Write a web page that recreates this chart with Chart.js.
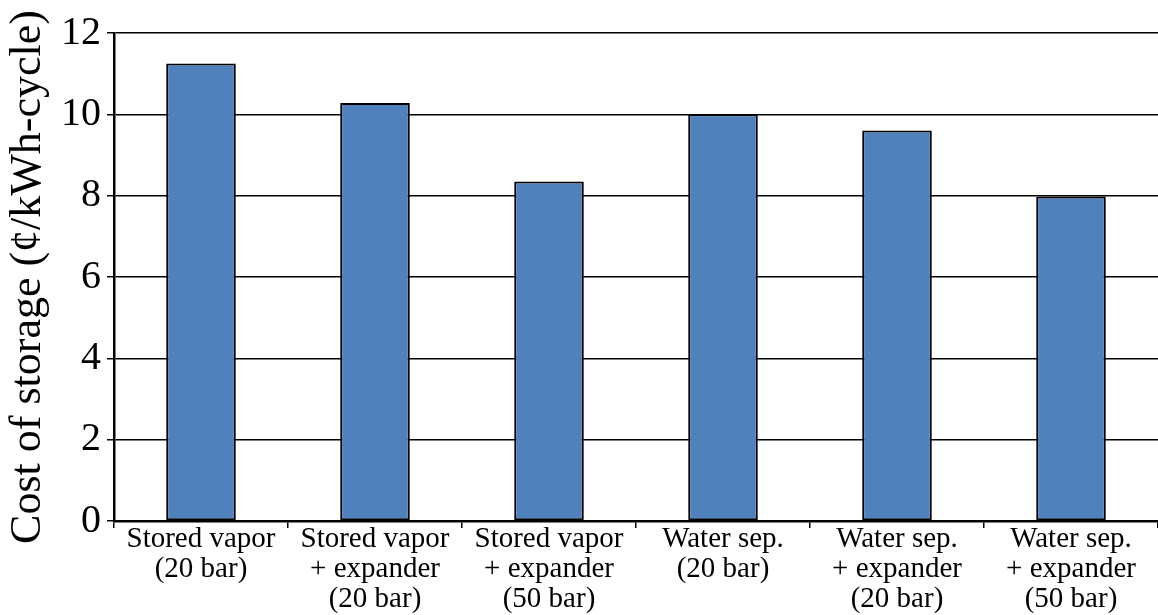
<!DOCTYPE html>
<html>
<head>
<meta charset="utf-8">
<script src="https://cdn.jsdelivr.net/npm/chart.js@4.4.0/dist/chart.umd.min.js"></script>
<style>
  html, body { margin: 0; padding: 0; background: #fff; }
  #wrap { width: 1158px; height: 615px; }
</style>
</head>
<body>
<div id="wrap"><canvas id="chart" width="1158" height="615"></canvas></div>
<script>
// ---------- DATOS ----------
const categorias = [
    ['Stored vapor', '(20 bar)'],
    ['Stored vapor', '+ expander', '(20 bar)'],
    ['Stored vapor', '+ expander', '(50 bar)'],
    ['Water sep.', '(20 bar)'],
    ['Water sep.', '+ expander', '(20 bar)'],
    ['Water sep.', '+ expander', '(50 bar)']
];
const costos = [11.25, 10.28, 8.35, 10.0, 9.6, 7.98];
const yMin = 0;
const yMax = 12;
const yPaso = 2;

// ---------- GRÁFICA ----------
const ctx = document.getElementById('chart');
new Chart(ctx, {
    type: 'bar',
    data: {
        labels: categorias,
        datasets: [{
            data: costos,
            backgroundColor: '#4F81BD',
            borderColor: '#000',
            borderWidth: 2,
            borderSkipped: false,
            barPercentage: 0.8,
            categoryPercentage: 0.5
        }]
    },
    options: {
        responsive: false,
        animation: false,
        layout: { padding: { top: 33, right: 0, left: 0, bottom: 0 } },
        plugins: {
            legend: { display: false },
            tooltip: { enabled: false }
        },
        scales: {
            x: {
                afterFit: s => { s.height = 94; },
                grid: {
                    offset: true,
                    drawOnChartArea: false,
                    drawTicks: true,
                    tickLength: 7,
                    color: '#000',
                    lineWidth: 1.5
                },
                border: { color: '#000', width: 2.5 },
                ticks: {
                    color: '#000',
                    font: { family: 'Liberation Serif', size: 29, lineHeight: 1.02 },
                    maxRotation: 0,
                    autoSkip: false,
                    padding: -3
                }
            },
            y: {
                min: yMin,
                max: yMax,
                afterFit: s => { s.width = 114; },
                grid: {
                    color: '#000',
                    lineWidth: 1.5,
                    tickLength: 7
                },
                border: { color: '#000', width: 2.5 },
                ticks: {
                    stepSize: yPaso,
                    color: '#000',
                    font: { family: 'Liberation Serif', size: 40 },
                    padding: 6
                },
                title: {
                    display: true,
                    text: 'Cost of storage (¢/kWh-cycle)',
                    color: '#000',
                    font: { family: 'Liberation Serif', size: 44, lineHeight: 1.0 },
                    padding: { top: 6, bottom: 0 }
                }
            }
        }
    }
});
</script>
</body>
</html>
